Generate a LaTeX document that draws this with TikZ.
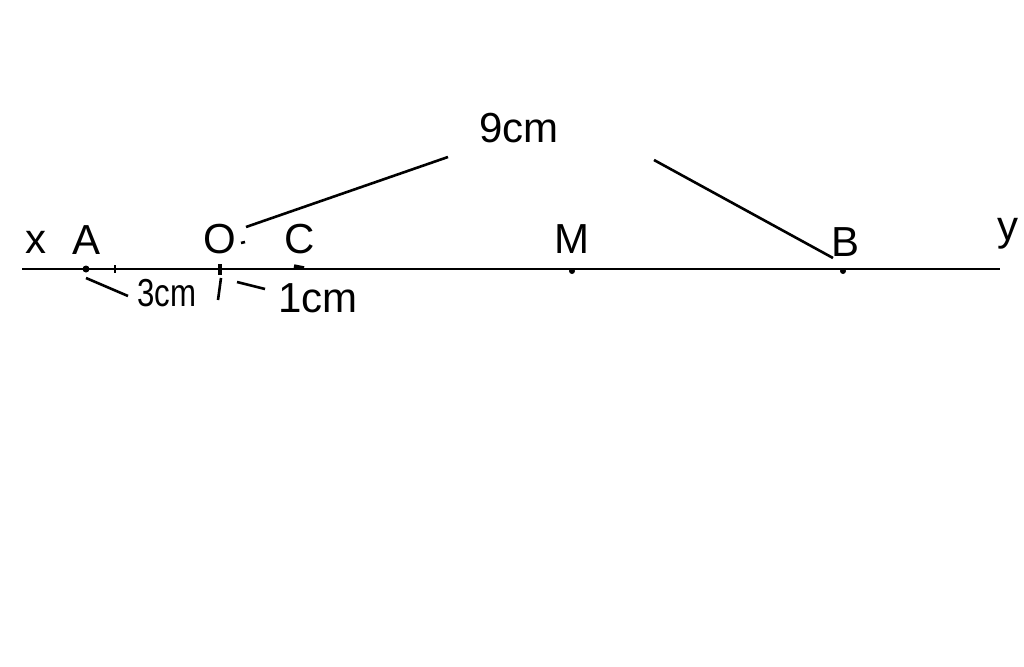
\documentclass[tikz,border=0pt]{standalone}
\usepackage{fontspec}
\setmainfont{Liberation Sans}
\begin{document}
\begin{tikzpicture}[x=1pt,y=-1pt,
  lbl/.style={inner sep=0pt,font=\fontsize{42}{44}\selectfont},
  ln/.style={line width=2.6pt,black},
  dotmark/.style={circle,fill=black,inner sep=0pt,minimum size=7pt}]
\useasboundingbox (0,0) rectangle (1024,666);
% main line
\coordinate (xend) at (22,269);
\coordinate (yend) at (1000,269);
\draw[ln] (xend) -- (yend);
% points
\node[dotmark] (A) at (86,269) {};
\node[dotmark,minimum size=6pt] (M) at (572,271) {};
\node[dotmark,minimum size=6pt] (B) at (843,271) {};
\node[inner sep=0pt,minimum size=2pt] (O) at (220,269) {};
\node[inner sep=0pt,minimum size=2pt] (C) at (300,268) {};
\draw[line width=4pt] (219.5,264) -- (219.5,275);
\draw[line width=3.5pt] (294,266) -- (304,268);
\draw[line width=2pt] (115,265) -- (115,273);
% labels
\node[lbl] (lx) at (36,242) {x};
\node[lbl] (lA) at (87,240) {A};
\node[lbl] (lO) at (220,239) {O};
\node[lbl] (lC) at (300,239) {C};
\node[lbl] (lM) at (572,239) {M};
\node[lbl] (lB) at (845,242) {B};
\node[lbl] (ly) at (1008,234) {y};
\node[lbl] (l9) at (519,128) {9cm};
\node[lbl] (l1) at (318,298) {1cm};
\node[inner sep=0pt] (l3) at (167,293) {\scalebox{0.8}[1]{\fontsize{39}{41}\selectfont 3cm}};
% leaders
\coordinate (n9a) at (448,157);
\coordinate (n9b) at (246,227);
\coordinate (n9c) at (654,160);
\coordinate (n9d) at (833,258);
\draw[ln] (n9a) -- (n9b);
\draw[ln] (n9c) -- (n9d);
\coordinate (n3a) at (86,278);
\coordinate (n3b) at (128,296);
\draw[ln] (n3a) -- (n3b);
\coordinate (oa) at (221,278);
\coordinate (ob) at (218,300);
\draw[ln] (oa) -- (ob);
\coordinate (n1a) at (237,282);
\coordinate (n1b) at (265,289);
\draw[ln] (n1a) -- (n1b);
\coordinate (da) at (241,243);
\coordinate (db) at (245,242);
\draw[ln] (da) -- (db);
\end{tikzpicture}
\end{document}
